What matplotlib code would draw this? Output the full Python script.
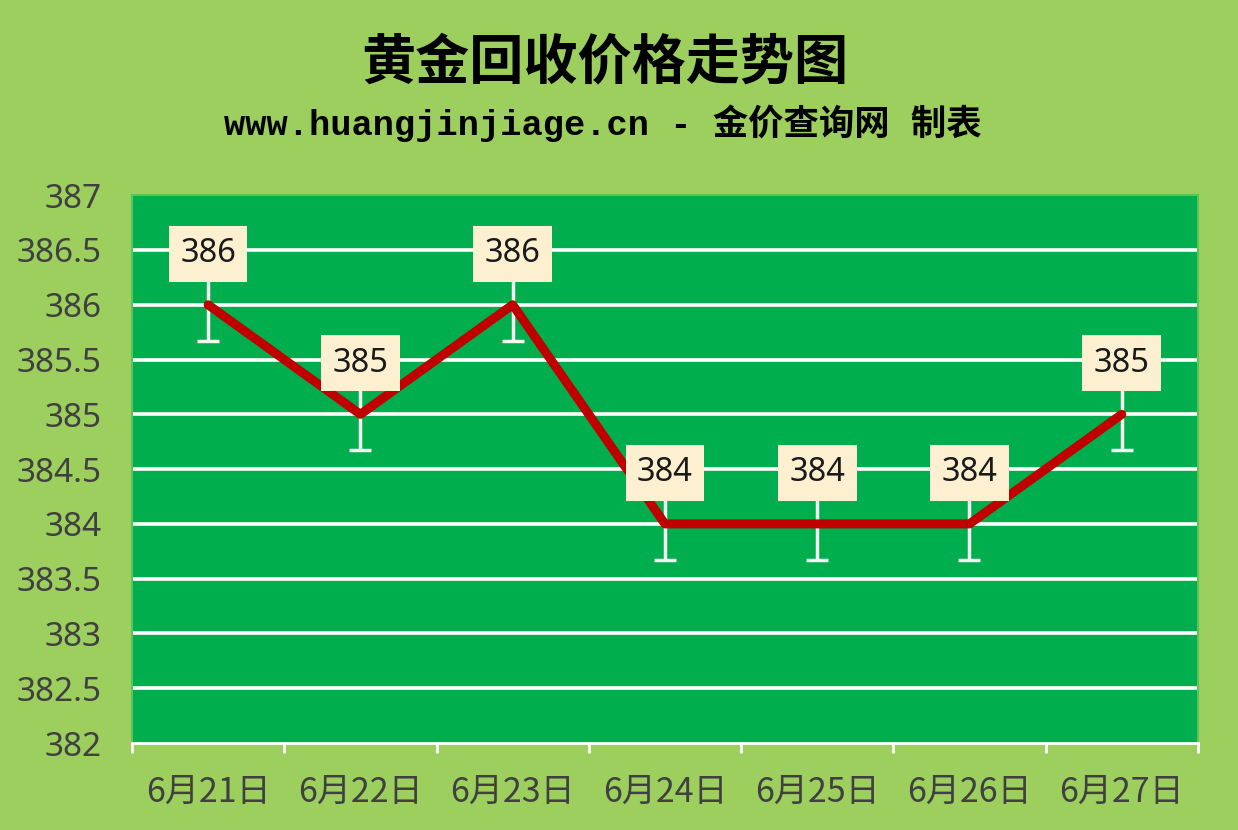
import numpy as np
import matplotlib.pyplot as plt

dates = ['6月21日', '6月22日', '6月23日', '6月24日', '6月25日', '6月26日', '6月27日']
prices = [386, 385, 386, 384, 384, 384, 385]
err = [0.33] * 7
yticks = [382, 382.5, 383, 383.5, 384, 384.5, 385, 385.5, 386, 386.5, 387]

bg = '#9dcf5e'
plot_bg = '#00ae4e'

fig = plt.figure(figsize=(12.38, 8.30), dpi=100)
fig.patch.set_facecolor(bg)
ax = fig.add_axes([0.1066, 0.1048, 0.861, 0.660])
ax.set_facecolor(plot_bg)

x = np.arange(len(dates))
ax.set_xlim(-0.5, len(dates) - 0.5)
ax.set_ylim(382, 387)

for t in yticks[1:-1]:
    ax.axhline(t, color='white', lw=2.6, zorder=1)

ax.errorbar(x, prices, yerr=err, fmt='none', ecolor='#f4f8f0', elinewidth=2.5,
            capsize=8, capthick=2.5, zorder=2)
ax.plot(x, prices, color='#c00000', lw=6.5, solid_capstyle='round',
        solid_joinstyle='round', zorder=3)

for xi, p in zip(x, prices):
    ax.text(xi, p + 0.465, str(p), ha='center', va='center', fontsize=23.5,
            family=['Noto Sans', 'DejaVu Sans'], color='#1a1a1a', zorder=4,
            bbox=dict(boxstyle='square,pad=0.35', fc='#fcf0d0', ec='none'))

ax.set_xticks(x)
ax.set_xticklabels(dates, family=['Noto Sans CJK SC', 'DejaVu Sans'], fontsize=24.5, color='#404040')
ax.set_xticks(np.arange(-0.5, len(dates), 1), minor=True)
ax.set_yticks(yticks)
ax.set_yticklabels([f'{t:g}' for t in yticks], family=['Noto Sans', 'DejaVu Sans'],
                   fontsize=24, color='#404040')
ax.tick_params(axis='x', which='major', length=0, pad=23)
ax.tick_params(axis='x', which='minor', length=7, width=2, color='white', direction='out')
ax.tick_params(axis='y', length=0, pad=22)

for s in ['left', 'top', 'right']:
    ax.spines[s].set_color('#5cc25a')
    ax.spines[s].set_linewidth(1.5)
ax.spines['bottom'].set_color('white')
ax.spines['bottom'].set_linewidth(2)

fig.text(0.489, 0.924, '黄金回收价格走势图', ha='center', va='center', fontsize=39,
         weight='bold', family=['Noto Sans CJK SC', 'DejaVu Sans'], color='black')
fig.text(0.487, 0.851, 'www.huangjinjiage.cn - 金价查询网 制表', ha='center', va='center',
         fontsize=25.5, weight='bold', family=['Liberation Mono', 'Noto Sans CJK SC'], color='black')

fig.savefig('out.png', dpi=100, facecolor=bg)
